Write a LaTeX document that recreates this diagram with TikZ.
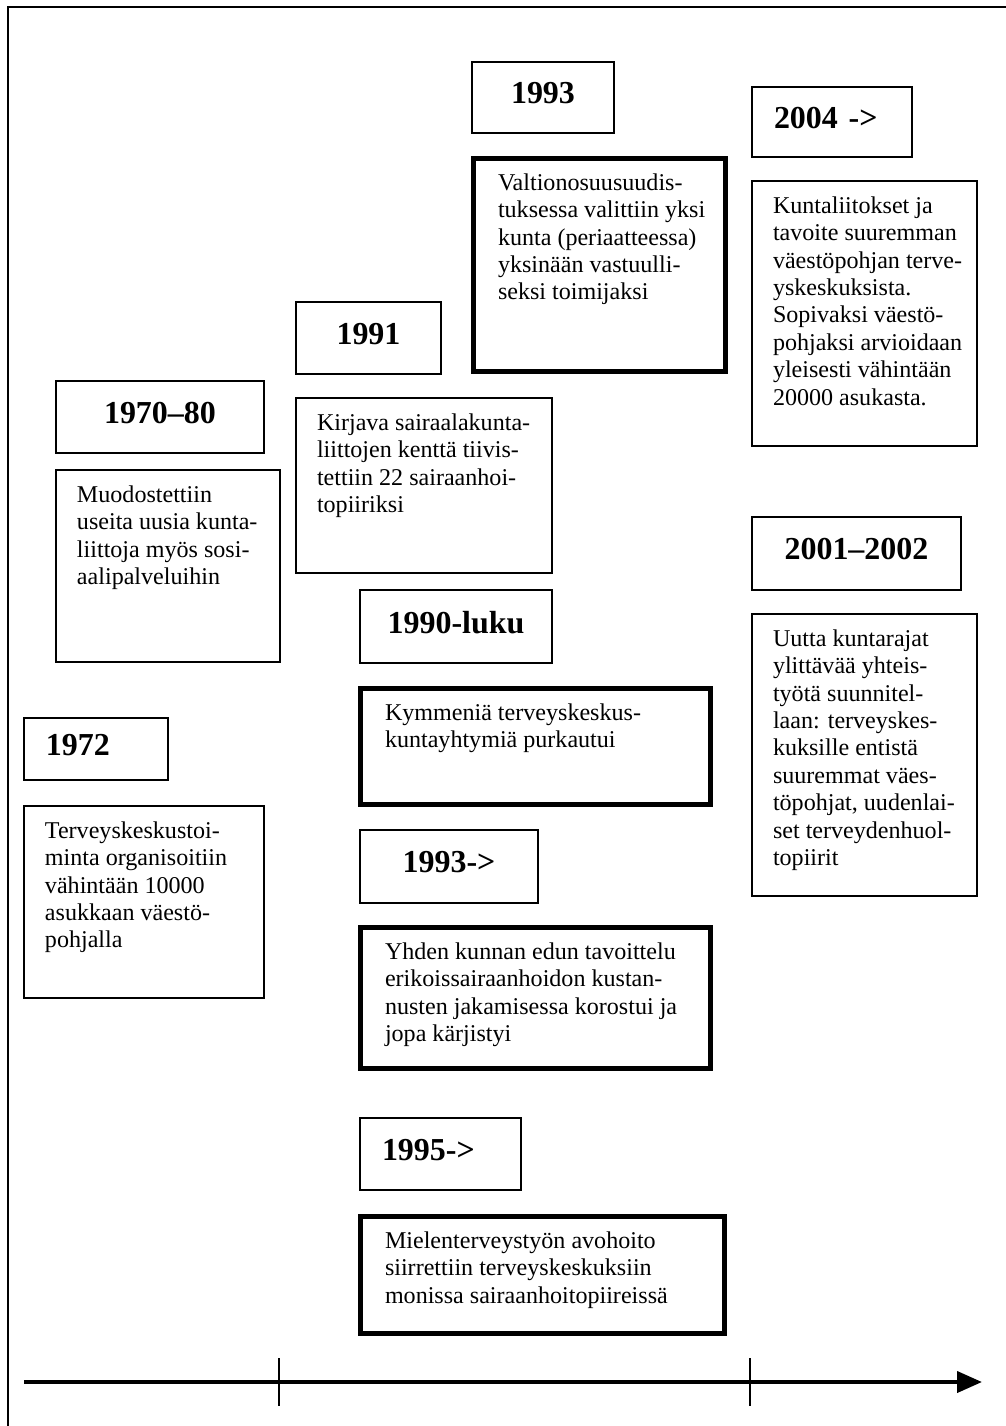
\documentclass[tikz,border=0pt]{standalone}
\usepackage{fontspec}
\setmainfont{Liberation Serif}
\usetikzlibrary{arrows.meta}

\newcommand{\evtext}[3]{\parbox[t][#2][t]{#1}{\begin{tabular}[t]{@{}l@{}}#3\end{tabular}}}

\begin{document}
\begin{tikzpicture}[x=0.02cm,y=-0.02cm,
  yearbox/.style={draw,line width=0.04cm,anchor=north west,outer sep=0pt,inner sep=0pt,
    font=\bfseries\fontsize{18.2}{21}\selectfont,text depth=0.17cm},
  yearleft/.style={yearbox,align=left,inner xsep=0.44cm},
  eventbox/.style={draw,line width=0.04cm,anchor=north west,outer sep=0pt,
    font=\fontsize{13.7}{15.6}\selectfont,inner xsep=0.42cm,inner ysep=0.26cm},
  keybox/.style={eventbox,line width=0.1cm,inner xsep=0.5cm},
  frameline/.style={line width=0.05cm},
  axisline/.style={line width=0.08cm,-{Triangle[length=0.5cm,width=0.42cm]}},
  tickmark/.style={line width=0.04cm}]
\useasboundingbox (0,0) rectangle (1006,1426);

\coordinate (ftr) at (1006,7);
\coordinate (ftl) at (8,7);
\coordinate (fbl) at (8,1426);
\draw[frameline] (ftr) -- (ftl) -- (fbl);

% years
\node[yearbox,minimum width=2.84cm,minimum height=1.42cm] (y1993) at (472,62) {1993};
\node[yearleft,text width=2.32cm,minimum width=3.20cm,minimum height=1.40cm] (y2004) at (752,87) {2004 ->};
\node[yearbox,minimum width=2.90cm,minimum height=1.44cm] (y1991) at (296,302) {1991};
\node[yearbox,minimum width=4.16cm,minimum height=1.44cm] (y7080) at (56,381) {1970--80};
\node[yearbox,minimum width=4.18cm,minimum height=1.46cm] (y0102) at (752,517) {2001--2002};
\node[yearbox,minimum width=3.84cm,minimum height=1.46cm] (y1990) at (360,590) {1990-luku};
\node[yearleft,text width=2.00cm,minimum width=2.88cm,minimum height=1.24cm] (y1972) at (24,718) {1972};
\node[yearbox,minimum width=3.56cm,minimum height=1.46cm] (y1993b) at (360,830) {1993->};
\node[yearleft,text width=2.34cm,minimum width=3.22cm,minimum height=1.44cm] (y1995) at (360,1118) {1995->};

% events
\node[keybox] (valt) at (473,158) {\evtext{4.06cm}{3.76cm}{Valtionosuusuudis-\\tuksessa valittiin yksi\\kunta (periaatteessa)\\yksinään vastuulli-\\seksi toimijaksi}};
\node[eventbox] (kunta) at (752,181) {\evtext{3.66cm}{4.78cm}{Kuntaliitokset ja\\tavoite suuremman\\väestöpohjan terve-\\yskeskuksista.\\Sopivaksi väestö-\\pohjaksi arvioidaan\\yleisesti vähintään\\20000 asukasta.}};
\node[eventbox] (kirjava) at (296,398) {\evtext{4.28cm}{2.98cm}{Kirjava sairaalakunta-\\liittojen kenttä tiivis-\\tettiin 22 sairaanhoi-\\topiiriksi}};
\node[eventbox] (muod) at (56,470) {\evtext{3.64cm}{3.32cm}{Muodostettiin\\useita uusia kunta-\\liittoja myös sosi-\\aalipalveluihin}};
\node[eventbox] (uutta) at (752,614) {\evtext{3.66cm}{5.12cm}{Uutta kuntarajat\\ylittävää yhteis-\\työtä suunnitel-\\laan: terveyskes-\\kuksille entistä\\suuremmat väes-\\töpohjat, uudenlai-\\set terveydenhuol-\\topiirit}};
\node[keybox] (kymm) at (360,688) {\evtext{6.02cm}{1.82cm}{Kymmeniä terveyskeskus-\\kuntayhtymiä purkautui}};
\node[eventbox] (terv) at (24,806) {\evtext{3.96cm}{3.32cm}{Terveyskeskustoi-\\minta organisoitiin\\vähintään 10000\\asukkaan väestö-\\pohjalla}};
\node[keybox] (yhden) at (360,927) {\evtext{6.02cm}{2.32cm}{Yhden kunnan edun tavoittelu\\erikoissairaanhoidon kustan-\\nusten jakamisessa korostui ja\\jopa kärjistyi}};
\node[keybox] (miel) at (360,1216) {\evtext{6.30cm}{1.84cm}{Mielenterveystyön avohoito\\siirrettiin terveyskeskuksiin\\monissa sairaanhoitopiireissä}};

% time axis
\coordinate (ax0) at (24,1382);
\coordinate (ax1) at (982,1382);
\draw[axisline] (ax0) -- (ax1);
\foreach \tx in {279,750}
  \draw[tickmark] (\tx,1358) -- (\tx,1406);
\end{tikzpicture}
\end{document}
